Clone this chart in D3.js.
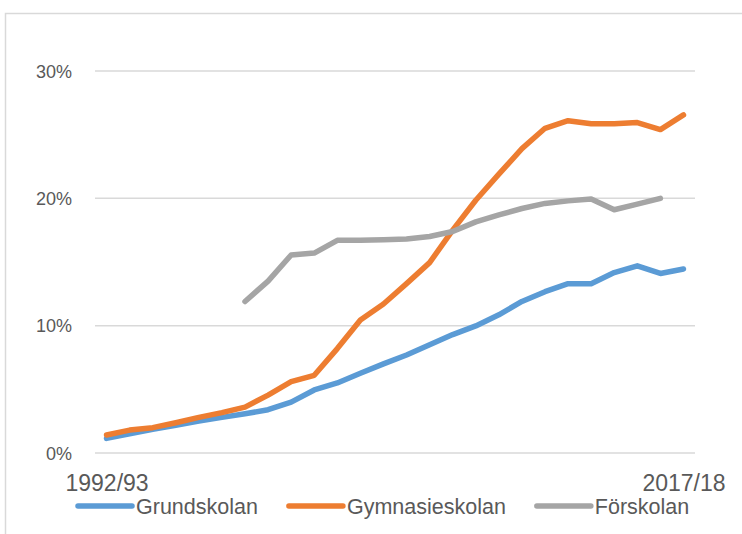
<!DOCTYPE html>
<html>
<head>
<meta charset="utf-8">
<script src="https://cdn.jsdelivr.net/npm/d3@7"></script>
<style>
  body { margin: 0; background: #fff; }
  svg { display: block; font-family: "Liberation Sans", Arial, sans-serif; }
</style>
</head>
<body>
<div id="chart"></div>
<script>
var years = ["1992/93","1993/94","1994/95","1995/96","1996/97","1997/98","1998/99","1999/00",
  "2000/01","2001/02","2002/03","2003/04","2004/05","2005/06","2006/07","2007/08","2008/09",
  "2009/10","2010/11","2011/12","2012/13","2013/14","2014/15","2015/16","2016/17","2017/18"];

var grundskolan = [1.15,1.5,1.86,2.17,2.5,2.8,3.08,3.4,4.0,4.95,5.5,6.26,7.0,7.7,8.5,9.3,
  9.98,10.85,11.9,12.67,13.3,13.3,14.17,14.7,14.1,14.45];
var gymnasieskolan = [1.41,1.8,1.99,2.38,2.8,3.17,3.6,4.55,5.6,6.1,8.2,10.45,11.7,13.3,14.95,17.5,
  19.85,21.9,23.9,25.5,26.1,25.85,25.85,25.95,25.4,26.55];
var forskolan = [null,null,null,null,null,null,11.9,13.5,15.55,15.7,16.7,16.7,16.75,16.8,17.0,17.4,
  18.15,18.7,19.2,19.6,19.8,19.95,19.1,19.55,20.0,null];

var yTicks = [0, 10, 20, 30];
var xLabels = ["1992/93", "2017/18"];

var series = [
  {name: "Grundskolan", values: grundskolan, color: "#5b9bd5"},
  {name: "Gymnasieskolan", values: gymnasieskolan, color: "#ed7d31"},
  {name: "Förskolan", values: forskolan, color: "#a5a5a5"}
];

var width = 742, height = 534;
var plot = {left: 95, right: 695, top: 71, bottom: 453};

var svg = d3.select("#chart").append("svg")
  .attr("width", width)
  .attr("height", height);

// chart frame, cut off at right and bottom like the original
svg.append("rect")
  .attr("x", 5.5).attr("y", 13.5)
  .attr("width", 800).attr("height", 600)
  .attr("fill", "none")
  .attr("stroke", "#d9d9d9")
  .attr("stroke-width", 1.5);

var x = d3.scalePoint().domain(years).range([plot.left, plot.right]).padding(0.5);
var y = d3.scaleLinear().domain([0, 30]).range([plot.bottom, plot.top]);

// gridlines
svg.append("g")
  .selectAll("line")
  .data(yTicks)
  .enter().append("line")
  .attr("x1", plot.left).attr("x2", plot.right)
  .attr("y1", function(d) { return y(d); })
  .attr("y2", function(d) { return y(d); })
  .attr("stroke", "#d9d9d9")
  .attr("stroke-width", 1.5);

// y axis labels
var yAxis = d3.axisLeft(y).tickValues(yTicks).tickSize(0).tickPadding(0)
  .tickFormat(function(d) { return d + "%"; });
svg.append("g")
  .attr("transform", "translate(72,0)")
  .call(yAxis)
  .call(function(g) { g.select(".domain").remove(); })
  .selectAll("text")
  .attr("dy", "0.35em")
  .style("font-size", "18px")
  .style("font-family", "'Liberation Sans', Arial, sans-serif")
  .attr("fill", "#595959");

// x axis labels, only first and last
var xAxis = d3.axisBottom(x).tickValues(xLabels).tickSize(0).tickPadding(0);
svg.append("g")
  .attr("transform", "translate(0,491)")
  .call(xAxis)
  .call(function(g) { g.select(".domain").remove(); })
  .selectAll("text")
  .attr("dy", 0)
  .style("font-size", "23px")
  .style("font-family", "'Liberation Sans', Arial, sans-serif")
  .attr("fill", "#595959");

// lines
var line = d3.line()
  .defined(function(d) { return d != null; })
  .x(function(d, i) { return x(years[i]); })
  .y(function(d) { return y(d); });

svg.append("g")
  .selectAll("path")
  .data(series)
  .enter().append("path")
  .attr("d", function(s) { return line(s.values); })
  .attr("fill", "none")
  .attr("stroke", function(s) { return s.color; })
  .attr("stroke-width", 5.5)
  .attr("stroke-linecap", "round")
  .attr("stroke-linejoin", "round");

// legend
var legend = svg.append("g").attr("class", "legend");
var lx = 78, ly = 506;
series.forEach(function(s) {
  legend.append("line")
    .attr("x1", lx).attr("x2", lx + 54)
    .attr("y1", ly).attr("y2", ly)
    .attr("stroke", s.color)
    .attr("stroke-width", 5.5)
    .attr("stroke-linecap", "round");
  var t = legend.append("text")
    .attr("x", lx + 58)
    .attr("y", ly + 8)
    .style("font-size", "21.5px")
    .attr("fill", "#595959")
    .text(s.name);
  lx = lx + 58 + t.node().getComputedTextLength() + 31;
});
</script>
</body>
</html>
